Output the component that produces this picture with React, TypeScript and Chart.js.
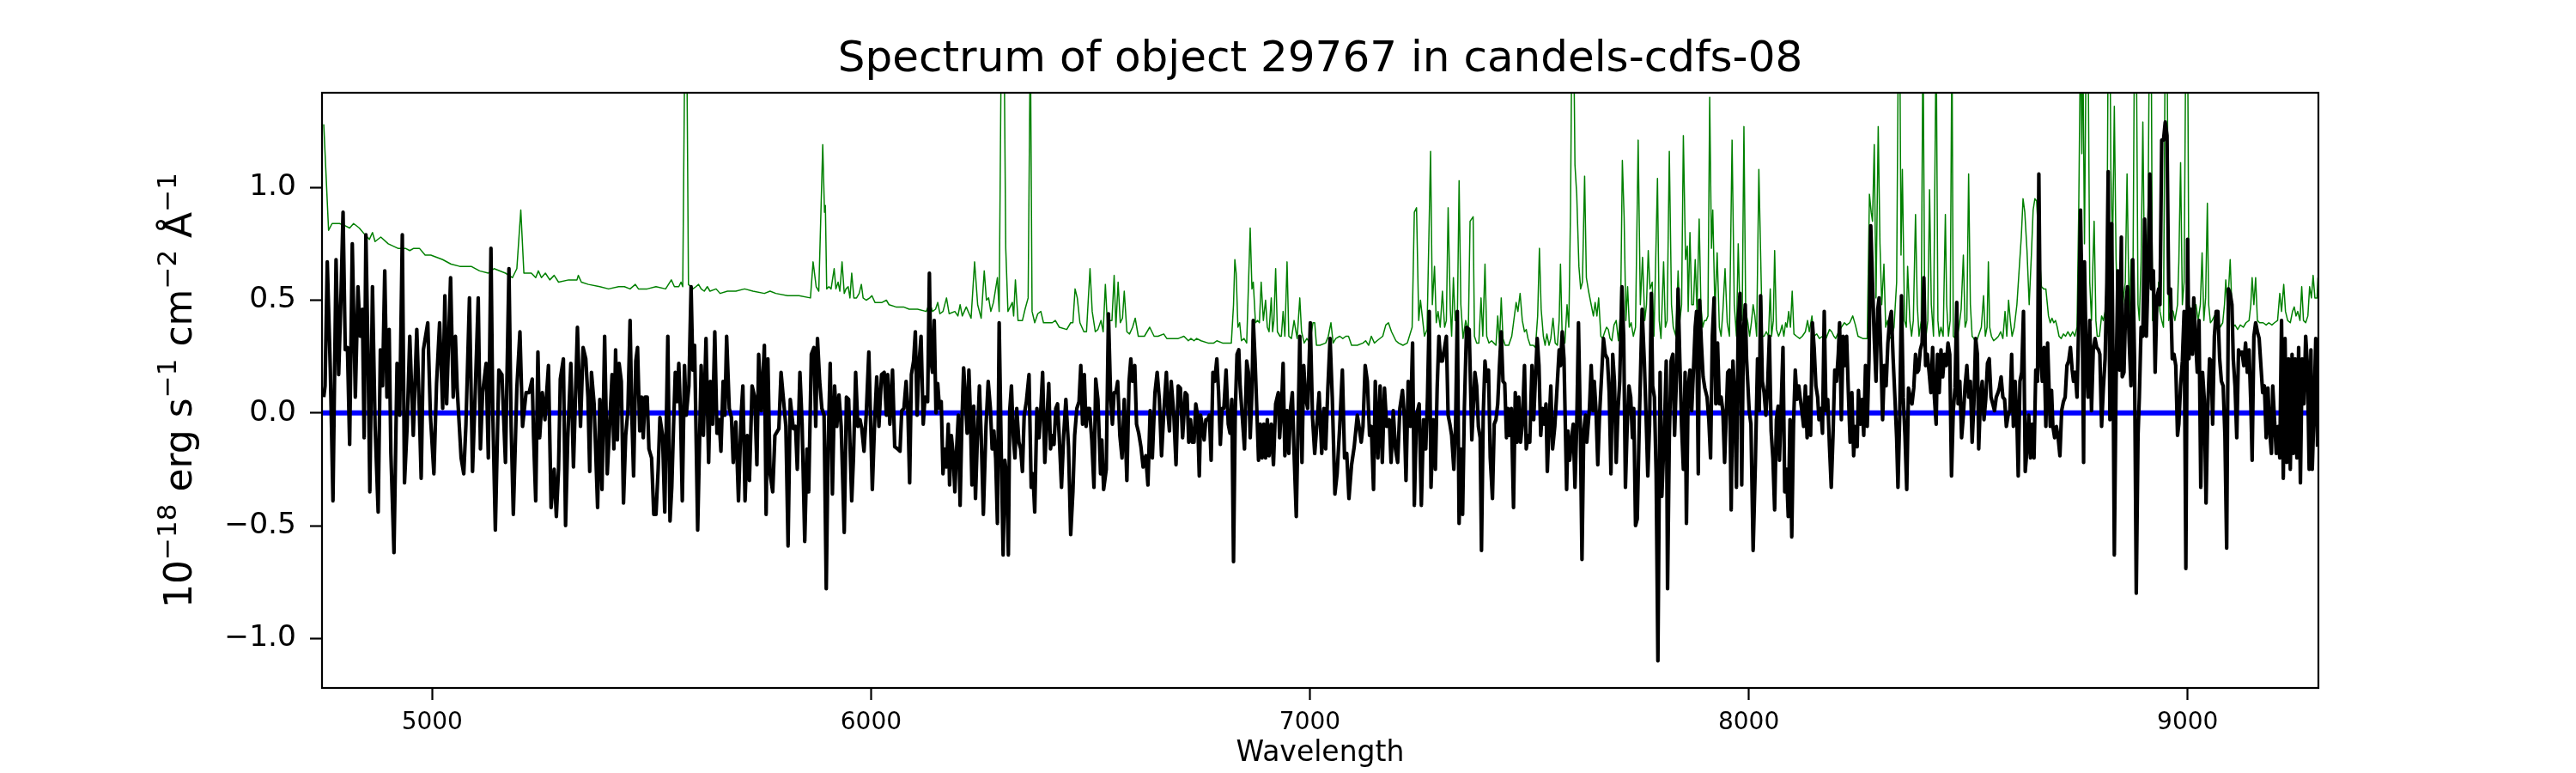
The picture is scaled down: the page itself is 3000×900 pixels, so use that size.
import { useEffect, useRef } from "react";
import { Chart, registerables } from "chart.js";

Chart.register(...registerables);

const FONT = "'DejaVu Sans', sans-serif";

const titleText = "Spectrum of object 29767 in candels-cdfs-08";
const xAxisLabel = "Wavelength";
// [text, isSuperscript]
const yAxisLabelParts: [string, boolean][] = [
  ["10", false], ["\u221218", true], [" erg s", false], ["\u22121", true],
  [" cm", false], ["\u22122", true], [" \u00c5", false], ["\u22121", true],
];

const waveTicks = [5000, 6000, 7000, 8000, 9000];
const fluxTicks = [-1.0, -0.5, 0.0, 0.5, 1.0];
const waveRange = [4749, 9298];
const fluxRange = [-1.22, 1.42];

const spectrumWave = [
  4753,4756,4761,4768,4774,4781,4787,4792,4797,4802,4807,4812,4818,4825,4831,4836,4841,4845,4849,4854,
  4858,4864,4870,4877,4882,4887,4892,4897,4902,4906,4913,4920,4926,4932,4937,4943,4949,4957,4965,4970,
  4975,4980,4990,4996,5004,5010,5017,5024,5029,5033,5042,5048,5053,5057,5066,5072,5077,5085,5092,5099,
  5105,5110,5115,5123,5128,5134,5138,5144,5152,5159,5167,5175,5180,5185,5193,5200,5206,5214,5221,5228,
  5231,5236,5241,5245,5251,5257,5265,5271,5278,5283,5288,5292,5299,5304,5309,5316,5322,5331,5338,5344,
  5350,5355,5359,5363,5369,5377,5382,5387,5393,5399,
  5410,5414,5418,5422,5426,5431,5436,5441,5446,5451,5455,5459,5464,5468,5473,5477,5481,5485,5490,5494,
  5500,5505,5510,5515,5519,5525,5530,5537,5542,5546,5550,5554,5558,5562,5566,5570,5575,5579,5585,5590,
  5594,5598,5605,5613,5618,5624,5630,5634,5639,5644,5649,5654,5658,5663,5667,5671,5677,5682,5686,5692,
  5698,5704,5708,5713,5718,5723,5729,5735,5740,5744,5750,5757,5761,5765,5770,5776,5781,5790,5795,5800,
  5806,5811,5816,5823,5828,5832,5838,5843,5849,5854,5858,5864,5870,5874,5878,5883,5888,5893,5898,5902,
  5907,5912,5917,5922,5927,5932,5939,5944,5949,5956,5960,5965,5970,5975,5979,5984,5989,5995,6003,6008,
  6013,6018,6024,6030,6035,6038,6043,6049,6054,
  6061,6066,6070,6075,6080,6084,6088,6092,6097,6101,6105,6109,6114,6119,6123,6129,6133,6136,6140,6144,
  6148,6152,6156,6160,6164,6168,6172,6176,6179,6183,6187,6191,6195,6199,6203,6207,6211,6215,6219,6223,
  6226,6230,6234,6238,6242,6247,6251,6256,6262,6267,6272,6276,6280,6284,6288,6292,6297,6301,6305,6309,
  6313,6316,6320,6324,6328,6332,6337,6341,6345,6349,6354,6360,6365,6369,6373,6378,6383,6387,6391,6396,
  6400,6405,6409,6413,6417,6421,6425,6429,6434,6439,6444,6450,6455,6460,6464,6469,6474,6478,6482,6486,
  6490,6494,6498,6503,6508,6512,6517,6523,6526,6530,6536,6541,6546,6550,6554,6558,6562,6567,6572,6577,
  6583,6588,6592,6596,6601,6605,6610,6615,6620,6626,6631,6636,6641,6647,6652,6657,6662,6667,6673,6677,
  6680,6684,6690,6695,6700,6705,6710,
  6716,6720,6724,6728,6732,6736,6740,6744,6748,6751,6755,6759,6763,6767,6771,6775,6779,6783,6788,6792,
  6796,6800,6804,6809,6814,6818,6822,6826,6830,6834,6838,6841,6845,6851,6856,6860,6864,6868,6871,6875,
  6879,6883,6887,6891,6895,6899,6903,6907,6912,6917,6922,6928,6931,6935,6939,6943,6948,6952,6956,6960,
  6964,6969,6973,6977,6982,6986,6990,6995,7001,7006,7011,7016,7021,7027,7032,7036,7041,7046,7051,7057,
  7062,7068,7074,7079,7084,7089,7095,7101,7108,7112,7117,7121,7126,7131,7136,7140,7145,7149,7155,7160,
  7165,7170,7175,7181,7185,7190,7195,7200,7205,7211,7215,7219,7224,7229,7234,7238,7243,7249,7254,7259,
  7264,7268,7272,7276,7281,7286,7290,7294,7298,7302,7306,7311,7315,7319,7323,7328,7332,7336,7340,7344,
  7348,7352,7357,7363,7369,
  7376,7380,7384,7388,7391,7395,7399,7403,7407,7411,7416,7420,7424,7428,7432,7436,7440,7444,7448,7451,
  7455,7459,7464,7468,7472,7476,7480,7484,7489,7493,7497,7501,7506,7510,7514,7518,7522,7526,7530,7534,
  7538,7541,7545,7549,7553,7558,7562,7568,7571,7575,7579,7585,7588,7592,7596,7600,7604,7608,7612,7616,
  7620,7624,7628,7631,7637,7641,7645,7648,7652,7656,7660,7664,7669,7673,7678,7682,7686,7690,7694,7698,
  7702,7706,7711,7715,7719,7723,7727,7731,7735,7738,7742,7746,7751,7757,7762,7766,7770,7774,7778,7781,
  7785,7789,7793,7798,7802,7808,7812,7815,7819,7823,7827,7831,7835,7839,7843,7847,7851,7855,7858,7862,
  7866,7870,7874,7878,7881,7885,7888,7892,7896,7900,7905,7909,7913,7917,7921,7925,7929,7933,7937,7941,
  7945,7948,7952,7956,7960,7964,7968,7972,7976,7980,7984,7988,7992,7995,8001,8005,8010,8015,8020,8024,
  8027,8031,8035,8039,8043,8047,8051,8055,8059,8063,8067,8070,8074,8078,8082,8086,8090,8094,8098,8102,
  8106,8110,8114,8117,8121,8125,8129,8133,8137,8141,8145,8149,8153,8157,8160,8164,8168,8172,8176,8180,
  8184,8188,8192,8196,8200,8204,8207,8211,8215,8219,8223,8227,8231,8235,8239,8243,8247,8250,8254,8258,
  8262,8266,8270,8274,8278,8282,8286,8290,8294,8297,8301,8305,8309,8313,8317,8321,8325,8329,8333,8337,
  8340,8344,8348,8352,8356,8360,8364,8368,8372,8376,8380,8384,8387,8391,8395,8399,8403,8407,8411,8415,
  8419,8423,8427,8430,8434,8438,8442,8446,8450,8454,8458,8462,8466,8470,8474,8477,8481,8485,8489,8493,
  8497,8501,8505,8509,8513,8517,8521,8524,8528,8532,8536,8540,8544,8548,8552,8556,8560,8564,8568,8571,
  8575,8579,8583,8587,8591,8595,8599,8603,8607,8611,8614,8618,8622,8626,8630,8634,8638,8642,8646,8650,
  8654,8658,8661,8665,8669,8673,8677,8681,
  8687,8690,8693,8697,8701,8705,8709,8713,8717,8721,8725,8729,8733,8737,8740,8744,8748,8752,8756,8760,
  8763,8765,8769,8773,8777,8781,8785,8789,8793,8797,8800,8804,8808,8812,8816,8819,8823,8827,8830,8833,
  8837,8841,8845,8849,8851,8855,8859,8863,8867,8871,8875,8879,8883,8887,8890,8894,8898,8902,8906,8910,
  8914,8918,8922,8926,8930,8934,8937,8941,8945,8949,8953,8957,8961,8965,8969,8973,8977,8980,8984,8988,
  8992,8996,9000,9003,9007,9011,9014,9018,9022,9026,9030,9034,9038,9042,9046,9050,9054,9057,9061,9065,
  9069,9073,9077,9081,9085,9089,9093,9097,9101,9104,9108,9112,9116,9120,9124,9128,9132,9136,9140,9144,
  9147,9151,9155,9159,9163,9167,9171,9175,9179,9183,9187,9191,9194,9198,9202,9206,9210,9214,9218,9222,
  9226,9230,9234,9238,9241,9245,9249,9253,9257,9261,9265,9269,9273,9277,9281,9284,9288,9292,9296,
];
const spectrumFlux = [
  0.07,0.12,0.67,0.19,-0.39,0.68,0.17,0.50,0.89,0.28,0.29,-0.14,0.75,0.07,0.56,0.34,0.46,-0.11,0.79,0.24,
  -0.35,0.56,-0.06,-0.44,0.28,0.12,0.63,0.07,0.37,-0.18,-0.62,0.22,-0.01,0.79,-0.31,-0.06,0.34,-0.10,0.37,0.07,
  -0.29,0.28,0.40,-0.01,-0.27,0.13,0.40,0.02,0.52,0.04,0.60,0.07,0.34,0.11,-0.20,-0.27,-0.05,0.51,-0.26,0.14,
  0.51,-0.16,0.09,0.22,-0.20,0.73,0.02,-0.52,0.19,0.17,-0.22,0.64,-0.06,-0.45,0.11,0.36,-0.06,0.09,0.09,0.15,
  -0.10,-0.39,0.27,-0.11,0.09,-0.03,0.21,-0.42,-0.25,-0.46,-0.25,0.15,0.24,-0.50,-0.11,0.22,-0.24,0.38,-0.06,0.29,
  0.24,0.07,-0.26,0.18,0.04,-0.42,0.06,-0.34,0.34,-0.27,
  0.17,-0.16,0.28,-0.12,0.22,0.14,-0.40,-0.10,0.01,0.41,-0.01,-0.28,0.23,0.29,-0.08,0.07,-0.11,0.07,0.07,-0.16,
  -0.20,-0.45,-0.45,-0.25,-0.02,-0.10,-0.44,0.34,-0.48,-0.33,-0.06,0.18,0.05,0.22,-0.01,-0.39,0.21,-0.01,0.12,0.56,
  0.19,0.30,-0.52,0.21,-0.10,0.33,-0.22,0.14,-0.05,0.36,-0.09,-0.03,-0.17,0.14,-0.01,0.34,0.02,-0.02,-0.22,-0.04,
  -0.39,-0.01,0.12,-0.39,-0.10,-0.30,0.12,0.07,-0.23,0.26,0.01,0.30,-0.45,0.24,-0.27,-0.35,-0.10,-0.07,0.18,0.07,
  -0.06,-0.59,0.06,-0.07,-0.06,-0.25,0.18,-0.05,-0.57,-0.16,-0.35,0.26,0.29,-0.06,0.33,0.14,0.02,-0.01,-0.78,-0.17,
  0.22,-0.36,0.12,-0.06,0.08,-0.06,-0.53,0.07,0.06,-0.39,-0.20,0.18,-0.06,-0.03,-0.07,-0.17,-0.01,0.27,-0.34,-0.05,
  0.16,-0.06,0.17,0.18,-0.01,0.17,-0.05,0.19,-0.15,
  -0.16,-0.17,0.01,0.02,0.14,0.01,-0.31,0.17,0.23,0.36,-0.01,0.21,0.34,-0.05,0.07,0.05,0.62,0.24,0.18,0.41,
  0.00,0.13,0.02,0.05,-0.27,-0.16,-0.24,-0.05,-0.32,-0.10,-0.18,-0.35,-0.16,-0.01,-0.41,-0.05,0.20,0.07,-0.09,0.19,
  0.02,-0.32,0.03,-0.38,-0.13,0.12,-0.10,-0.45,-0.06,0.14,0.02,-0.16,-0.08,-0.20,-0.49,0.40,-0.20,-0.63,-0.21,-0.28,
  -0.63,0.01,0.12,-0.10,-0.20,0.02,-0.13,-0.16,-0.26,-0.01,0.05,0.17,-0.33,-0.27,-0.44,0.02,-0.11,0.02,0.18,-0.22,
  -0.06,0.13,-0.16,-0.10,-0.14,0.02,0.04,-0.11,-0.33,-0.10,0.06,-0.15,-0.54,-0.35,-0.10,0.02,0.05,0.21,-0.05,0.17,
  -0.06,0.02,0.02,-0.12,-0.33,0.15,0.06,-0.27,-0.12,-0.34,-0.25,0.44,0.07,-0.05,0.09,0.09,0.14,-0.10,-0.20,0.06,
  -0.30,0.14,0.24,0.14,0.21,-0.05,-0.09,-0.15,-0.24,-0.19,-0.32,0.01,-0.20,0.09,0.18,0.06,-0.19,0.00,0.18,-0.01,
  -0.08,0.14,-0.01,-0.23,0.12,0.11,-0.11,
  0.09,0.08,-0.13,-0.03,-0.13,-0.13,0.04,-0.01,-0.28,-0.01,-0.06,-0.12,-0.03,-0.03,-0.01,-0.21,0.18,0.14,0.24,0.09,
  -0.14,0.02,0.02,0.19,-0.05,-0.09,0.06,-0.66,0.01,0.26,0.28,0.12,0.01,-0.16,0.23,0.18,-0.11,0.09,0.41,0.24,
  0.02,-0.21,-0.05,-0.20,-0.05,-0.20,-0.03,-0.19,-0.05,-0.23,0.04,0.09,-0.11,0.01,0.22,-0.19,0.01,-0.18,0.02,0.09,
  -0.18,-0.46,-0.06,0.34,-0.22,0.21,0.07,0.02,0.40,-0.02,-0.18,-0.05,0.09,-0.18,0.02,-0.16,0.11,0.33,0.07,-0.36,
  -0.27,-0.06,0.19,-0.20,-0.18,-0.38,-0.23,-0.15,-0.01,-0.06,-0.13,-0.06,0.21,0.14,-0.10,-0.06,-0.34,0.14,-0.20,0.12,
  -0.22,0.11,-0.06,-0.03,-0.22,0.01,-0.16,-0.22,0.02,0.10,-0.01,-0.30,0.14,-0.06,0.31,-0.41,-0.01,0.04,-0.41,-0.03,
  -0.16,0.07,0.45,-0.33,-0.03,-0.25,0.11,0.34,0.23,0.23,0.28,0.34,-0.01,-0.05,-0.10,-0.25,-0.05,0.45,-0.49,-0.16,
  -0.45,0.02,0.38,0.37,-0.12,
  0.18,0.12,-0.06,-0.11,-0.61,-0.01,0.23,0.14,0.19,-0.20,-0.38,-0.05,-0.03,0.04,0.21,0.36,0.14,0.13,-0.11,0.02,
  -0.10,0.02,-0.42,0.09,-0.13,0.07,-0.13,-0.05,0.21,-0.16,-0.10,-0.13,0.21,-0.03,0.16,0.33,0.21,-0.10,0.02,-0.05,
  0.04,-0.26,-0.05,0.12,-0.16,-0.06,0.07,0.28,0.21,0.36,0.24,-0.34,-0.08,-0.21,-0.12,-0.05,-0.33,-0.06,0.40,-0.03,
  -0.65,-0.08,-0.01,-0.13,0.02,0.21,0.01,0.14,0.01,-0.23,-0.01,0.14,0.33,0.26,0.24,0.09,-0.27,0.26,0.14,-0.22,
  0.01,0.14,0.56,0.34,-0.33,-0.06,0.12,0.07,-0.11,0.02,-0.50,-0.47,-0.01,0.46,0.23,-0.01,-0.28,-0.05,0.53,0.12,
  0.07,-0.27,-1.10,0.18,-0.37,-0.06,0.23,-0.78,-0.11,0.23,0.26,-0.10,0.14,0.55,0.23,-0.06,-0.25,0.18,-0.49,0.11,
  0.19,0.01,0.19,0.38,0.45,-0.27,0.50,0.31,0.16,0.11,0.07,-0.03,-0.20,0.34,0.51,0.04,0.31,0.04,0.07,0.01,
  -0.22,-0.05,0.18,0.19,-0.43,0.23,0.07,-0.33,0.41,0.53,-0.32,0.36,0.48,0.24,0.01,-0.05,-0.61,-0.23,0.24,0.01,
  0.52,0.14,0.09,-0.01,0.12,0.34,-0.08,-0.20,-0.43,-0.03,0.03,-0.21,0.04,0.29,-0.35,-0.25,-0.46,-0.03,-0.55,-0.05,
  0.19,0.06,0.12,0.07,0.01,-0.06,0.12,-0.11,0.07,-0.10,0.40,0.29,0.12,0.07,-0.03,0.02,-0.09,0.45,0.01,0.06,
  -0.15,-0.33,-0.10,0.19,0.14,0.26,0.40,-0.03,0.34,0.21,0.34,0.09,-0.13,0.09,-0.19,-0.06,-0.15,0.10,-0.05,0.06,
  -0.10,0.21,-0.06,0.24,0.83,0.58,0.33,0.14,0.46,0.51,0.26,-0.03,0.21,0.12,0.31,0.41,0.45,0.24,0.07,-0.11,
  -0.33,-0.01,0.52,0.07,-0.10,-0.34,0.11,0.07,0.04,0.11,0.26,0.18,0.19,0.28,0.31,0.60,0.21,0.26,0.18,0.09,
  0.29,0.07,-0.05,0.26,0.09,0.28,0.16,0.26,0.21,0.31,0.26,-0.28,0.01,0.11,0.49,0.04,0.14,-0.11,-0.01,0.12,
  0.21,0.07,0.14,-0.13,0.04,0.33,0.26,-0.16,0.07,0.14,-0.03,0.06,0.22,0.24,0.07,0.04,0.01,0.07,0.09,0.11,
  0.16,0.07,0.06,-0.06,-0.01,0.01,0.26,-0.06,0.14,-0.03,-0.28,0.14,0.18,0.45,-0.26,-0.16,-0.01,-0.20,-0.05,-0.20,
  0.19,0.14,1.06,0.24,0.14,0.29,-0.06,0.31,
  -0.06,0.10,-0.06,-0.11,-0.06,-0.11,-0.19,0.01,0.05,0.07,0.21,0.23,0.29,0.19,0.14,0.18,0.07,0.41,0.90,0.41,
  -0.22,0.67,0.24,0.07,0.41,0.01,0.28,0.33,0.29,0.28,0.26,-0.06,0.11,0.24,0.58,1.07,-0.03,0.84,0.24,-0.63,
  0.14,0.63,0.19,0.78,0.16,0.18,0.48,0.56,0.31,0.12,0.68,0.24,-0.80,-0.10,0.07,0.38,0.34,0.86,0.34,0.62,
  1.06,0.55,0.63,0.18,0.51,0.55,0.48,1.21,1.21,1.29,1.23,0.53,0.55,0.24,0.26,0.21,-0.10,-0.05,0.12,0.23,
  0.45,-0.69,0.77,0.24,0.46,0.26,0.51,0.33,0.18,0.41,-0.33,0.18,0.06,-0.40,0.02,0.24,0.23,-0.05,0.34,0.45,
  0.45,0.24,0.14,0.12,-0.10,-0.60,0.55,0.53,0.48,0.24,0.12,-0.11,0.28,0.26,0.27,0.21,0.31,0.18,0.28,0.04,
  -0.21,0.34,0.40,0.36,0.33,0.21,0.09,0.12,-0.11,0.11,-0.08,-0.18,0.12,-0.03,-0.18,-0.06,-0.20,0.41,-0.29,0.33,
  -0.22,0.24,-0.25,0.26,-0.18,0.24,-0.20,0.29,-0.31,0.24,0.04,0.34,0.21,-0.25,0.28,-0.25,0.01,0.33,-0.15,
];

// model / sky (green); 1.7 marks lines that leave the top of the frame
const modelWave = [
  4753,4764,4772,4789,4802,4812,4821,4834,4847,4857,4864,4870,4883,4900,4922,4939,4949,4958,4971,4984,
  4997,5024,5043,5063,5089,5108,5128,5141,5167,5183,5193,5202,5209,5226,5236,5242,5249,5258,5268,5278,
  5288,5311,5330,5333,5340,5356,5382,5402,
  5425,5438,5451,5463,5470,5490,5510,5532,5545,5552,5562,5567,5571,5576,5580,5584,5594,5601,5607,5613,
  5620,5627,5633,5647,5656,5673,5692,5712,5731,5757,5770,5783,5810,5836,5862,5868,5875,5881,5890,5894,
  5896,5899,5904,5909,5916,5920,5925,5929,5934,5939,5943,5948,5952,5956,5961,5967,5973,5978,5982,5989,
  5997,6002,6009,6025,6035,6041,6057,
  6074,6087,6106,6126,6134,6140,6147,6152,6157,6164,6172,6178,6191,6198,6203,6208,6217,6228,6236,6243,
  6251,6258,6263,6268,6273,6279,6288,6292,6297,6303,6307,6312,6322,6325,6329,6335,6345,6351,6358,6363,
  6367,6373,6380,6387,6393,6413,6420,6429,6446,6455,6460,6465,6470,6476,6485,6491,6499,6504,6511,6517,
  6524,6529,6534,6539,6543,6549,6554,6558,6563,6568,6573,6577,6583,6589,6596,6602,6609,6615,6623,6635,
  6645,6654,6667,6674,6687,6700,6713,
  6723,6729,6736,6742,6752,6768,6781,6788,6801,6821,6826,6829,6832,6836,6840,6844,6850,6856,6864,6868,
  6871,6876,6881,6885,6889,6894,6899,6903,6907,6912,6915,6918,6922,6926,6932,6935,6939,6943,6948,6952,
  6958,6964,6971,6977,6981,6987,6993,7000,7007,7011,7015,7023,7036,7042,7048,7053,7059,7068,7075,7082,
  7088,7095,7108,7121,7127,7134,7140,7147,7153,7166,7173,7179,7186,7196,7202,7212,7222,7233,7238,7243,
  7248,7252,7256,7261,7267,7275,7279,7284,7288,7292,7297,7302,7307,7311,7315,7320,7323,7327,7331,7336,
  7340,7344,7349,7355,7361,7365,
  7372,7375,7380,7385,7390,7394,7399,7403,7408,7414,7419,7424,7428,7432,7436,7440,7445,7453,7460,7464,
  7470,7474,7479,7484,7489,7493,7497,7502,7509,7514,7519,7523,7527,7532,7536,7540,7545,7549,7554,7559,
  7564,7568,7571,7575,7581,7586,7590,7594,7597,7601,7604,7608,7613,7617,7621,7626,7630,7635,7641,7646,
  7650,7654,7658,7663,7667,7672,7676,7680,7684,7688,7693,7698,7703,7708,7712,7716,7720,7724,7728,7732,
  7737,7742,7748,7753,7758,7763,7767,7771,7775,7780,7784,7788,7792,7796,7800,7806,7810,7814,7819,7824,
  7828,7834,7839,7843,7847,7851,7856,7860,7862,7866,7870,7874,7878,7882,7887,7891,7895,7899,7903,7907,
  7911,7915,7918,7923,7928,7933,7937,7941,7946,7951,7956,7962,7967,7972,7976,7980,7985,7989,7993,7998,
  8002,8006,8010,8014,8018,8023,
  8031,8035,8040,8045,8049,8052,8056,8059,8063,8068,8072,8076,8080,8084,8087,8091,8095,8099,8103,8109,
  8116,8122,8129,8134,8138,8144,8148,8155,8161,8168,8176,8184,8189,8194,8198,8205,8211,8218,8223,8230,
  8237,8243,8249,8260,8270,8275,8279,8282,8286,8290,8295,8299,8303,8308,8312,8316,8321,8326,8331,8337,
  8341,8344,8347,8350,8355,8359,8362,8367,8371,8375,8380,8384,8388,8393,8397,8401,8404,8408,8412,8416,
  8421,8427,8431,8434,8438,8443,8448,8451,8455,8459,8463,8466,8471,8475,8479,8484,8489,8493,8497,8501,
  8505,8509,8513,8518,8523,8530,8535,8539,8543,8546,8549,8553,8558,8564,8569,8574,8579,8584,8588,8592,
  8596,8600,8605,8611,8616,8621,8625,8629,8634,8639,8644,8648,8652,8656,8661,8667,8672,8677,8683,
  8687,8691,8695,8699,8703,8707,8712,8717,8722,8727,8733,8738,8743,8748,8752,8756,8759,8761,8765,8769,
  8773,8777,8781,8784,8787,8791,8794,8799,8804,8808,8812,8816,8819,8823,8825,8829,8833,8837,8841,8846,
  8850,8854,8858,8862,8867,8871,8875,8879,8883,8887,8890,8894,8898,8902,8906,8910,8913,8917,8920,8924,
  8930,8934,8937,8941,8945,8949,8953,8957,8962,8967,8971,8977,8980,8984,8988,8992,8996,9000,9003,9007,
  9011,9014,9019,9024,9029,9033,9037,9041,9045,9048,9052,9056,9061,9068,9074,9080,9084,9087,9091,9097,
  9101,9104,9108,9114,9120,9127,9133,9140,9144,9147,9151,9155,9159,9164,9172,9179,9185,9192,9198,9205,
  9210,9214,9219,9223,9228,9234,9239,9243,9247,9251,9256,9260,9264,9269,9274,9278,9282,9286,9290,9295,
  9297,
];
const modelFlux = [
  1.28,0.81,0.84,0.84,0.83,0.82,0.84,0.82,0.79,0.77,0.80,0.76,0.78,0.75,0.73,0.73,0.72,0.73,0.73,0.70,
  0.70,0.68,0.66,0.65,0.65,0.63,0.62,0.64,0.62,0.60,0.64,0.90,0.62,0.62,0.60,0.63,0.60,0.62,0.59,0.61,
  0.58,0.59,0.59,0.61,0.58,0.57,0.56,0.55,
  0.56,0.56,0.55,0.57,0.55,0.55,0.56,0.55,0.59,0.56,0.56,0.58,0.56,1.7,1.7,0.57,0.55,0.56,0.57,0.55,
  0.54,0.56,0.54,0.55,0.53,0.54,0.54,0.55,0.54,0.53,0.54,0.53,0.52,0.52,0.51,0.67,0.56,0.54,1.19,0.89,
  0.92,0.55,0.56,0.55,0.64,0.55,0.58,0.54,0.67,0.53,0.55,0.56,0.51,0.62,0.51,0.51,0.53,0.57,0.51,0.50,
  0.51,0.52,0.49,0.49,0.50,0.48,0.47,
  0.47,0.46,0.46,0.45,0.49,0.45,0.46,0.49,0.44,0.45,0.51,0.44,0.45,0.43,0.48,0.43,0.47,0.42,0.67,0.48,
  0.42,0.63,0.50,0.51,0.45,0.49,0.60,0.45,1.7,1.7,0.73,0.45,0.49,0.43,0.59,0.41,0.41,0.46,0.51,1.7,
  0.45,0.40,0.44,0.45,0.40,0.40,0.41,0.38,0.37,0.40,0.40,0.55,0.51,0.40,0.36,0.36,0.64,0.45,0.36,0.37,
  0.41,0.36,0.57,0.38,0.41,0.41,0.61,0.38,0.58,0.40,0.42,0.54,0.36,0.35,0.38,0.42,0.34,0.34,0.34,0.38,
  0.34,0.34,0.35,0.33,0.33,0.33,0.34,
  0.32,0.33,0.32,0.33,0.32,0.31,0.31,0.32,0.31,0.31,0.48,0.68,0.62,0.38,0.40,0.32,0.33,0.31,0.82,0.55,
  0.58,0.40,0.41,0.40,0.58,0.41,0.50,0.38,0.36,0.51,0.36,0.41,0.64,0.36,0.34,0.34,0.45,0.34,0.67,0.34,
  0.33,0.41,0.33,0.51,0.36,0.31,0.33,0.31,0.40,0.40,0.30,0.30,0.31,0.34,0.40,0.31,0.33,0.34,0.33,0.34,
  0.34,0.30,0.30,0.31,0.32,0.30,0.34,0.31,0.32,0.34,0.39,0.40,0.36,0.32,0.31,0.30,0.31,0.38,0.89,0.91,
  0.41,0.50,0.43,0.34,0.37,1.16,0.48,0.65,0.40,0.45,0.38,0.54,0.38,0.41,0.91,0.46,0.34,0.60,0.41,0.41,
  1.03,0.48,0.33,0.41,0.36,0.85,
  0.87,0.34,0.31,0.31,0.51,0.34,0.66,0.34,0.31,0.32,0.31,0.30,0.43,0.31,0.51,0.33,0.30,0.30,0.34,0.40,
  0.49,0.45,0.53,0.41,0.36,0.37,0.33,0.30,0.30,0.29,0.43,0.73,0.46,0.34,0.30,0.35,0.30,0.33,0.42,0.31,
  0.30,0.41,0.66,0.33,0.31,0.48,0.38,0.92,1.7,1.7,1.10,0.97,0.65,0.55,0.58,1.05,0.60,0.54,0.48,0.43,
  0.49,0.43,0.51,0.34,0.33,0.36,0.38,0.37,0.33,0.32,0.39,0.41,0.32,0.45,1.12,0.87,0.41,0.56,0.38,0.40,
  0.34,0.38,1.21,0.48,0.69,0.41,0.48,0.72,0.55,0.58,0.34,0.68,1.04,0.41,0.33,0.67,0.38,0.41,1.16,0.48,
  0.38,0.34,0.63,0.41,0.48,1.23,0.68,0.74,0.45,0.80,0.48,0.48,0.68,0.45,0.86,0.48,0.38,0.41,0.41,0.43,
  1.40,0.73,0.90,0.45,0.71,0.38,0.34,0.45,0.64,0.40,0.34,1.21,0.48,0.34,0.75,0.45,0.41,1.27,0.45,0.40,
  0.34,0.40,0.48,0.43,0.34,1.08,
  0.34,0.34,0.36,0.34,0.55,0.34,0.41,0.72,0.37,0.34,0.36,0.39,0.34,0.40,0.38,0.45,0.38,0.54,0.35,0.34,
  0.33,0.34,0.36,0.41,0.36,0.43,0.34,0.35,0.33,0.34,0.33,0.37,0.36,0.34,0.33,0.36,0.38,0.40,0.39,0.40,
  0.43,0.39,0.34,0.33,0.33,0.97,0.89,0.85,1.19,0.51,1.27,0.75,0.48,0.66,0.38,0.41,0.33,0.34,0.38,0.58,
  1.7,1.7,0.70,1.08,0.41,0.38,0.65,0.41,0.34,0.41,0.88,0.48,0.34,0.41,1.7,0.45,0.34,0.41,0.99,0.48,
  0.34,1.7,0.41,0.34,0.38,0.34,0.88,0.48,0.34,0.41,1.7,0.34,0.33,0.34,0.38,0.46,0.70,0.38,0.41,1.06,
  0.48,0.34,0.33,0.31,0.34,0.38,0.52,0.34,0.38,0.67,0.38,0.34,0.32,0.33,0.34,0.36,0.33,0.45,0.34,0.50,
  0.41,0.34,0.38,0.48,0.63,0.78,0.95,0.89,0.72,0.48,0.70,0.90,0.95,0.94,0.75,0.56,0.55,0.55,0.43,
  0.40,0.42,0.40,0.41,0.38,0.34,0.33,0.35,0.34,0.36,0.34,0.36,0.34,0.38,0.92,1.7,1.15,1.7,0.75,1.7,
  1.7,0.58,0.41,0.65,0.85,0.41,0.34,0.34,0.43,0.41,0.45,0.58,1.7,1.7,1.09,0.72,1.36,0.68,0.41,0.48,
  0.41,0.51,0.58,1.06,0.41,0.68,0.46,1.7,1.7,0.48,0.41,0.67,1.29,0.58,0.45,0.92,1.7,1.7,0.41,0.48,
  0.41,0.58,0.45,0.41,0.38,1.7,1.7,0.41,0.46,0.45,0.41,0.48,0.67,1.11,0.48,0.58,1.7,1.7,0.48,0.46,
  0.43,0.43,0.48,0.41,0.48,0.71,0.41,0.51,0.93,0.48,0.40,0.41,0.43,0.41,0.38,0.40,0.48,0.59,0.46,0.68,
  0.46,0.38,0.39,0.37,0.39,0.38,0.40,0.41,0.48,0.60,0.48,0.60,0.41,0.40,0.40,0.39,0.40,0.39,0.40,0.41,
  0.53,0.45,0.57,0.45,0.41,0.40,0.45,0.47,0.43,0.45,0.41,0.56,0.41,0.40,0.43,0.56,0.51,0.61,0.51,0.51,
  0.60,
];

// flat zero level (blue)
const zeroWave = [4749, 9298];
const zeroFlux = [0, 0];

function toPoints(xs: number[], ys: number[]) {
  const n = Math.min(xs.length, ys.length);
  return xs.slice(0, n).map((x, i) => ({ x, y: ys[i] }));
}

function formatFlux(v: number) {
  const s = Math.abs(v).toFixed(1);
  return v < -1e-9 ? "\u2212" + s : s;
}

const decorPlugin = {
  id: "decor",
  afterDatasetsDraw(chart: Chart) {
    const { ctx, chartArea: a } = chart;
    ctx.save();
    ctx.strokeStyle = "#000";
    ctx.lineWidth = 2.2;
    ctx.strokeRect(a.left, a.top, a.right - a.left, a.bottom - a.top);
    ctx.restore();
  },
  afterDraw(chart: Chart) {
    const { ctx, chartArea: a } = chart;
    ctx.save();
    ctx.fillStyle = "#000";

    // title
    ctx.font = `50px ${FONT}`;
    ctx.textAlign = "center";
    ctx.textBaseline = "alphabetic";
    ctx.fillText(titleText, (a.left + a.right) / 2, 83);

    // rotated y label with superscripts
    const baseFont = `44px ${FONT}`;
    const supFont = `31px ${FONT}`;
    let total = 0;
    for (const [t, sup] of yAxisLabelParts) {
      ctx.font = sup ? supFont : baseFont;
      total += ctx.measureText(t).width;
    }
    ctx.translate(223, (a.top + a.bottom) / 2);
    ctx.rotate(-Math.PI / 2);
    ctx.textAlign = "left";
    let x = -total / 2;
    for (const [t, sup] of yAxisLabelParts) {
      ctx.font = sup ? supFont : baseFont;
      ctx.fillText(t, x, sup ? -18 : 0);
      x += ctx.measureText(t).width;
    }
    ctx.restore();
  },
};

export default function App() {
  const canvasRef = useRef<HTMLCanvasElement>(null);
  const chartRef = useRef<Chart | null>(null);

  useEffect(() => {
    document.body.style.margin = "0";
    if (!canvasRef.current) return;
    if (chartRef.current) chartRef.current.destroy();

    chartRef.current = new Chart(canvasRef.current, {
      type: "line",
      data: {
        datasets: [
          {
            label: "flux",
            data: toPoints(spectrumWave, spectrumFlux),
            borderColor: "#000000",
            borderWidth: 4.2,
            order: 0,
          },
          {
            label: "zero",
            data: toPoints(zeroWave, zeroFlux),
            borderColor: "#0000ff",
            borderWidth: 6,
            order: 1,
          },
          {
            label: "model",
            data: toPoints(modelWave, modelFlux),
            borderColor: "#008000",
            borderWidth: 1.5,
            order: 2,
          },
        ],
      },
      options: {
        responsive: false,
        maintainAspectRatio: false,
        animation: false,
        devicePixelRatio: 1,
        parsing: false,
        normalized: true,
        events: [],
        layout: { padding: { top: 108, right: 300, bottom: 0, left: 0 } },
        elements: {
          point: { radius: 0, hoverRadius: 0 },
          line: { tension: 0, fill: false, borderJoinStyle: "round", borderCapStyle: "butt" },
        },
        plugins: {
          legend: { display: false },
          tooltip: { enabled: false },
          title: { display: false },
        },
        scales: {
          x: {
            type: "linear",
            min: waveRange[0],
            max: waveRange[1],
            afterBuildTicks: (scale: any) => {
              scale.ticks = waveTicks.map((v) => ({ value: v }));
            },
            afterFit: (scale: any) => {
              scale.height = 99;
            },
            ticks: {
              color: "#000",
              font: { family: FONT, size: 28 },
              padding: 10,
              maxRotation: 0,
              autoSkip: false,
              callback: (v: any) => String(v),
            },
            grid: {
              display: true,
              drawOnChartArea: false,
              drawTicks: true,
              tickLength: 14,
              tickWidth: 2.2,
              tickColor: "#000",
            },
            border: { display: false },
            title: {
              display: true,
              text: xAxisLabel,
              color: "#000",
              font: { family: FONT, size: 33 },
              padding: { top: 0, bottom: 3 },
            },
          },
          y: {
            type: "linear",
            min: fluxRange[0],
            max: fluxRange[1],
            afterBuildTicks: (scale: any) => {
              scale.ticks = fluxTicks.map((v) => ({ value: v }));
            },
            afterFit: (scale: any) => {
              scale.width = 375;
            },
            ticks: {
              color: "#000",
              font: { family: FONT, size: 34.5 },
              padding: 16,
              autoSkip: false,
              callback: (v: any) => formatFlux(Number(v)),
            },
            grid: {
              display: true,
              drawOnChartArea: false,
              drawTicks: true,
              tickLength: 14,
              tickWidth: 2.2,
              tickColor: "#000",
            },
            border: { display: false },
          },
        },
      },
      plugins: [decorPlugin],
    } as any);

    return () => {
      if (chartRef.current) {
        chartRef.current.destroy();
        chartRef.current = null;
      }
    };
  }, []);

  return (
    <div style={{ width: 3000, height: 900, background: "#fff" }}>
      <canvas ref={canvasRef} width={3000} height={900} style={{ display: "block" }} />
    </div>
  );
}
